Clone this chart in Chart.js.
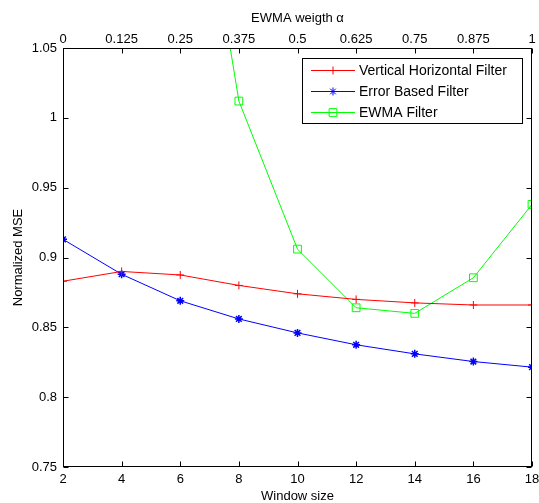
<!DOCTYPE html>
<html>
<head>
<meta charset="utf-8">
<title>Normalized MSE</title>
<script src="https://cdn.jsdelivr.net/npm/chart.js@4.4.0/dist/chart.umd.min.js"></script>
<style>
  html, body { margin: 0; padding: 0; background: #fff; }
  #wrap { width: 539px; height: 503px; }
</style>
</head>
<body>
<div id="wrap"><canvas id="mseChart" width="539" height="503"></canvas></div>
<script>
// chart values
const windowSizes = [2, 4, 6, 8, 10, 12, 14, 16, 18];
const vhFilter    = [0.883, 0.890, 0.8875, 0.880, 0.874, 0.870, 0.8675, 0.866, 0.866];
const errorFilter = [0.913, 0.888, 0.869, 0.856, 0.846, 0.8375, 0.831, 0.8255, 0.8215];
const ewmaWindows = [6, 8, 10, 12, 14, 16, 18];
const ewmaFilter  = [1.27, 1.012, 0.906, 0.864, 0.860, 0.8855, 0.938];

const windowTicks = [2, 4, 6, 8, 10, 12, 14, 16, 18];
const alphaTicks  = [0, 0.125, 0.25, 0.375, 0.5, 0.625, 0.75, 0.875, 1];
const mseTicks    = [0.75, 0.8, 0.85, 0.9, 0.95, 1, 1.05];

const seriesNames = ['Vertical Horizontal Filter', 'Error Based Filter', 'EWMA Filter'];

const FONT = '"Liberation Sans", Arial, Helvetica, sans-serif';
const fmt = v => String(+Number(v).toFixed(3));
const pts = (xs, ys) => xs.map((x, i) => ({ x: x, y: ys[i] }));
const useTicks = list => scale => { scale.ticks = list.map(v => ({ value: v })); };

function drawMarker(ctx, style, x, y, r) {
  ctx.beginPath();
  if (style === 'cross') {
    ctx.moveTo(x - r, y); ctx.lineTo(x + r, y);
    ctx.moveTo(x, y - r); ctx.lineTo(x, y + r);
  } else if (style === 'star') {
    ctx.moveTo(x - r, y); ctx.lineTo(x + r, y);
    ctx.moveTo(x, y - r); ctx.lineTo(x, y + r);
    const d = r * Math.SQRT1_2;
    ctx.moveTo(x - d, y - d); ctx.lineTo(x + d, y + d);
    ctx.moveTo(x - d, y + d); ctx.lineTo(x + d, y - d);
  } else {
    const s = r * Math.SQRT1_2;
    ctx.rect(x - s, y - s, 2 * s, 2 * s);
  }
  ctx.stroke();
}

// matlab style frame, inward ticks and the boxed legend
const matlabAxes = {
  id: 'matlabAxes',
  afterDraw(chart) {
    const { ctx, chartArea: a, scales } = chart;
    const tick = 5;
    ctx.save();
    ctx.strokeStyle = '#000';
    ctx.lineWidth = 1;
    const L = Math.round(a.left) + 0.5, R = Math.round(a.right) - 0.5;
    const T = Math.round(a.top) + 0.5, B = Math.round(a.bottom) - 0.5;
    ctx.strokeRect(L, T, R - L, B - T);

    ctx.beginPath();
    windowTicks.forEach(v => {
      const px = Math.round(scales.x.getPixelForValue(v)) + 0.5;
      ctx.moveTo(px, B); ctx.lineTo(px, B - tick);
    });
    alphaTicks.forEach(v => {
      const px = Math.round(scales.x2.getPixelForValue(v)) + 0.5;
      ctx.moveTo(px, T); ctx.lineTo(px, T + tick);
    });
    mseTicks.forEach(v => {
      const py = Math.round(scales.y.getPixelForValue(v)) + 0.5;
      ctx.moveTo(L, py); ctx.lineTo(L + tick, py);
      ctx.moveTo(R, py); ctx.lineTo(R - tick, py);
    });
    ctx.stroke();

    // legend
    const box = { x: 302.5, y: 58.5, w: 220, h: 65 };
    ctx.fillStyle = '#fff';
    ctx.fillRect(box.x, box.y, box.w, box.h);
    ctx.strokeRect(box.x, box.y, box.w, box.h);
    const rows = [70, 91, 112];
    ctx.font = '14px ' + FONT;
    ctx.textBaseline = 'middle';
    ctx.textAlign = 'left';
    chart.data.datasets.forEach((ds, i) => {
      const y = rows[i] + 0.5;
      ctx.strokeStyle = ds.borderColor;
      ctx.beginPath();
      ctx.moveTo(311, y); ctx.lineTo(355, y);
      ctx.stroke();
      drawMarker(ctx, ds.pointStyle, 333, y, ds.pointRadius);
      ctx.fillStyle = '#000';
      ctx.fillText(seriesNames[i], 359, rows[i] + 1);
    });
    ctx.restore();
  }
};

const ctxMse = document.getElementById('mseChart').getContext('2d');
const mseChart = new Chart(ctxMse, {
  type: 'line',
  data: {
    datasets: [{
      label: seriesNames[0],
      data: pts(windowSizes, vhFilter),
      borderColor: '#ff0000',
      pointBorderColor: '#ff0000',
      pointStyle: 'cross',
      pointRadius: 4
    }, {
      label: seriesNames[1],
      data: pts(windowSizes, errorFilter),
      borderColor: '#0000ff',
      pointBorderColor: '#0000ff',
      pointStyle: 'star',
      pointRadius: 4,
      pointBorderWidth: 1.5
    }, {
      label: seriesNames[2],
      data: pts(ewmaWindows, ewmaFilter),
      borderColor: '#00ff00',
      pointBorderColor: '#00ff00',
      pointStyle: 'rect',
      pointRadius: 5.5
    }]
  },
  options: {
    responsive: false,
    animation: false,
    events: [],
    layout: { padding: { left: 0, right: 7, top: 0, bottom: 0 } },
    elements: {
      line: { borderWidth: 1, tension: 0, fill: false },
      point: { backgroundColor: 'rgba(0,0,0,0)', borderWidth: 1, hoverRadius: 0 }
    },
    plugins: { legend: { display: false }, tooltip: { enabled: false } },
    scales: {
      x: {
        type: 'linear', position: 'bottom', min: 2, max: 18,
        afterBuildTicks: useTicks(windowTicks),
        afterFit: s => { s.height = 36; s.paddingLeft = 0; s.paddingRight = 0; },
        grid: { display: false, drawTicks: false },
        border: { display: false },
        ticks: { color: '#000', padding: 5, maxRotation: 0, autoSkip: false, font: { family: FONT, size: 13 }, callback: fmt },
        title: { display: true, text: 'Window size', color: '#000', padding: 0, font: { family: FONT, size: 13, lineHeight: 1 } }
      },
      x2: {
        type: 'linear', position: 'top', min: 0, max: 1, display: true,
        afterBuildTicks: useTicks(alphaTicks),
        afterFit: s => { s.height = 48; s.paddingLeft = 0; s.paddingRight = 0; },
        grid: { display: false, drawTicks: false },
        border: { display: false },
        ticks: { color: '#000', padding: 1, maxRotation: 0, autoSkip: false, font: { family: FONT, size: 13 }, callback: fmt },
        title: { display: true, text: 'EWMA weigth α', color: '#000', padding: { top: 12, bottom: 0 }, font: { family: FONT, size: 13, lineHeight: 1 } }
      },
      y: {
        type: 'linear', position: 'left', min: 0.75, max: 1.05,
        afterBuildTicks: useTicks(mseTicks),
        afterFit: s => { s.width = 63; s.paddingTop = 0; s.paddingBottom = 0; },
        grid: { display: false, drawTicks: false },
        border: { display: false },
        ticks: { color: '#000', padding: 6, autoSkip: false, font: { family: FONT, size: 13 }, callback: fmt },
        title: { display: true, text: 'Normalized MSE', color: '#000', padding: { top: 12, bottom: 0 }, font: { family: FONT, size: 13, lineHeight: 1 } }
      }
    }
  },
  plugins: [matlabAxes]
});
</script>
</body>
</html>
